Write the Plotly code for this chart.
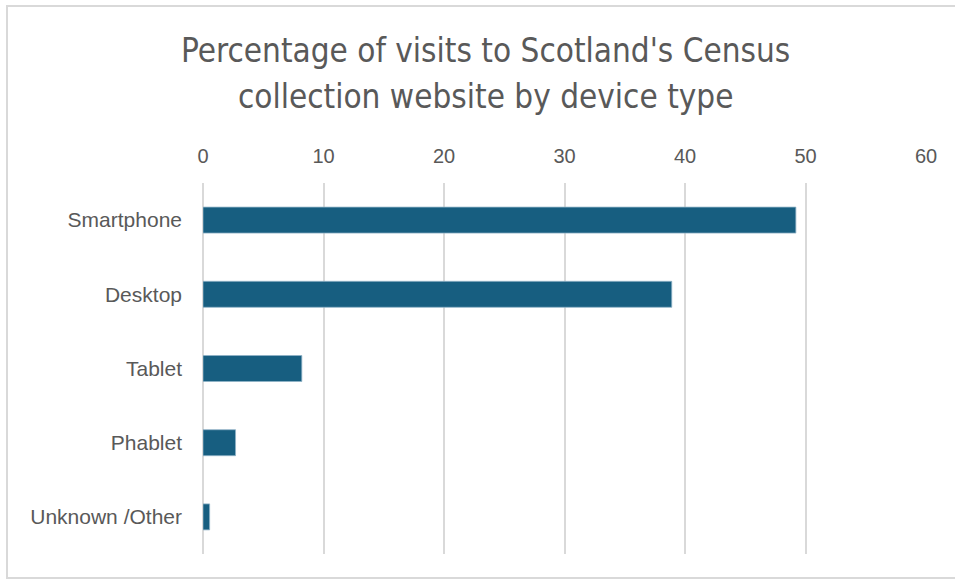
import plotly.graph_objects as go

categories = ["Smartphone", "Desktop", "Tablet", "Phablet", "Unknown /Other"]
values = [49.2, 38.9, 8.2, 2.7, 0.55]
x_ticks = [0, 10, 20, 30, 40, 50, 60]
title_lines = ["Percentage of visits to Scotland's Census", "collection website by device type"]

W, H = 955, 581
fig = go.Figure()
fig.add_trace(go.Bar(
    y=categories, x=values, orientation="h",
    marker=dict(color="#175e80", line=dict(color="#8fb3c6", width=0.8)),
    width=0.35,
))

fig.update_layout(
    width=W, height=H,
    margin=dict(l=203, r=29, t=183, b=27),
    paper_bgcolor="white", plot_bgcolor="white",
    showlegend=False,
    font=dict(family="Liberation Sans, Arial, sans-serif", color="#595959", size=21),
    xaxis=dict(
        side="top", range=[0, 60], tickvals=x_ticks, ticks="",
        showgrid=True, gridcolor="#d9d9d9", gridwidth=2,
        zeroline=True, zerolinecolor="#d9d9d9", zerolinewidth=2,
        showline=False, ticklabelstandoff=15,
        tickfont=dict(size=20, color="#595959"),
    ),
    yaxis=dict(
        categoryorder="array", categoryarray=categories, autorange="reversed",
        showgrid=False, zeroline=False, showline=False, ticks="",
        ticklabelstandoff=20,
        tickfont=dict(size=21, color="#595959"),
    ),
)

for i, line in enumerate(title_lines):
    fig.add_annotation(
        text=line, xref="paper", yref="paper",
        x=(485 - 203) / (W - 203 - 29), y=1 + (183 - (50 + 47 * i)) / (H - 183 - 27),
        xanchor="center", yanchor="middle", showarrow=False,
        font=dict(family="DejaVu Sans Condensed, sans-serif", size=33, color="#595959"),
    )

fig.add_shape(type="rect", xref="paper", yref="paper",
              x0=-(203 - 7) / (W - 232), x1=1 + (29 + 10) / (W - 232),
              y0=-(27 - 3) / (H - 210), y1=1 + (183 - 6) / (H - 210),
              line=dict(color="#d9d9d9", width=2), fillcolor="rgba(0,0,0,0)", layer="below")

fig.write_html("out.html")
